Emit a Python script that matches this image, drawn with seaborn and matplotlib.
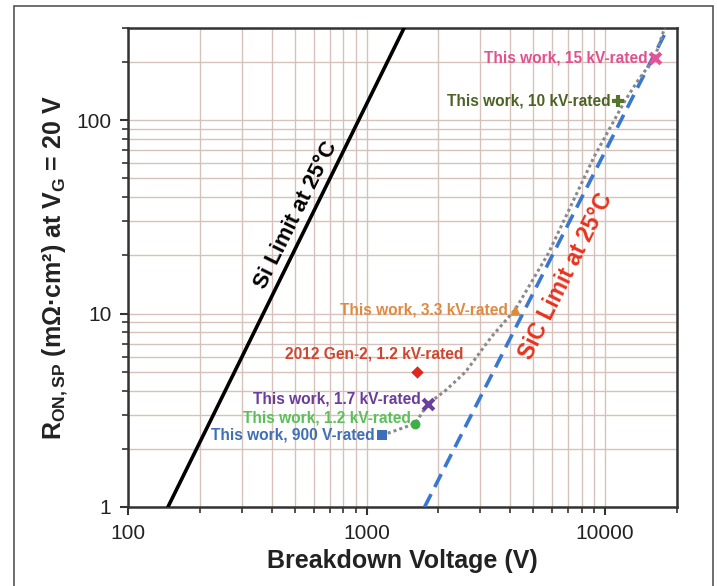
import numpy as np
import matplotlib
matplotlib.use('Agg')
import matplotlib.pyplot as plt
import seaborn as sns
from matplotlib.patches import Rectangle
from matplotlib.ticker import NullFormatter

sns.set_theme(style="white")
plt.rcParams['font.family'] = ['Liberation Sans', 'DejaVu Sans']
plt.rcParams['mathtext.default'] = 'regular'

# ── Data ─────────────────────────────────────────────────────
# unipolar limits (two end points each, log-log straight lines)
si_v = [147, 1436]
si_r = [1, 300]
sic_v = [1750, 18300]
sic_r = [1, 300]

# dotted trend through the "this work" devices
trend_v = [1160, 1600, 1800, 2140, 2600, 3340, 4200, 5780, 9000, 12100, 13740, 16100, 17750]
trend_r = [2.35, 2.7, 3.4, 4.0, 5.0, 7.6, 10.5, 20.5, 65, 126, 161, 210, 300]

device_labels = ['This work, 900 V-rated', 'This work, 1.2 kV-rated',
                 'This work, 1.7 kV-rated', '2012 Gen-2, 1.2 kV-rated',
                 'This work, 3.3 kV-rated', 'This work, 10 kV-rated',
                 'This work, 15 kV-rated']
device_v = [1160, 1600, 1810, 1630, 4200, 11300, 16100]
device_r = [2.35, 2.7, 3.4, 5.0, 10.4, 126, 210]

x_ticks = [100, 1000, 10000]
x_tick_labels = ['100', '1000', '10000']
y_ticks = [1, 10, 100]
y_tick_labels = ['1', '10', '100']

# styles per device (marker, marker colour, text colour, text offset in pt, ha)
marker_style = ['s', 'o', 'x', 'D', '^', '+', 'x']
marker_color = ['#3d6eb8', '#3cb044', '#6b3fa0', '#e0261e', '#e08a3a', '#55752b', '#e8509a']
text_color = ['#3f6fb5', '#5cbf5c', '#6a3c9c', '#cf452f', '#e08a40', '#4d6326', '#e2508f']
text_offset = [(-5, 0), (-3, 4), (-5, 4), (-31, 13), (-5, 0), (-5, 0), (-5, 0)]
text_ha = ['right', 'right', 'right', 'center', 'right', 'right', 'right']
marker_size = [45, 50, 60, 40, 60, 70, 60]

# ── Figure ───────────────────────────────────────────────────
fig = plt.figure(figsize=(7.17, 5.86), dpi=100)
ax = fig.add_axes([128/717, 1 - 507/586, (677 - 128)/717, (507 - 28)/586])

ax.set_xscale('log')
ax.set_yscale('log')
ax.set_xlim(100, 20000)
ax.set_ylim(1, 300)

ax.grid(True, which='both', color='#d6c2ba', lw=1.0)
ax.set_axisbelow(True)

sns.lineplot(x=si_v, y=si_r, ax=ax, color='black', lw=2.6, zorder=3)
sns.lineplot(x=sic_v, y=sic_r, ax=ax, color='#3a78d0', lw=2.6, zorder=3,
             dashes=False, linestyle=(0, (4, 2.2)))
sns.lineplot(x=trend_v, y=trend_r, ax=ax, color='#8a8a8a', lw=2.2, zorder=3,
             linestyle=(0, (1, 1)))

for i in range(len(device_v)):
    lw = 3 if marker_style[i] in ('x', '+') else 0
    ax.scatter(device_v[i], device_r[i], marker=marker_style[i], s=marker_size[i],
               color=marker_color[i], linewidths=lw, zorder=5)
    ax.annotate(device_labels[i], (device_v[i], device_r[i]),
                xytext=text_offset[i], textcoords='offset points',
                ha=text_ha[i], va='center', fontsize=11.2, fontweight='bold',
                color=text_color[i],
                family=['Liberation Sans Narrow', 'Liberation Sans', 'DejaVu Sans'])

ax.text(0.306, 0.61, 'Si Limit at 25°C', transform=ax.transAxes, rotation=63.5,
        rotation_mode='anchor', ha='center', va='center', fontsize=16,
        fontweight='bold', color='black')
ax.text(0.797, 0.482, 'SiC Limit at 25°C', transform=ax.transAxes, rotation=63.5,
        rotation_mode='anchor', ha='center', va='center', fontsize=16.5,
        fontweight='bold', color='#e8321e')

ax.set_xticks(x_ticks)
ax.set_xticklabels(x_tick_labels)
ax.set_yticks(y_ticks)
ax.set_yticklabels(y_tick_labels)
ax.xaxis.set_minor_formatter(NullFormatter())
ax.yaxis.set_minor_formatter(NullFormatter())
ax.tick_params(which='major', direction='out', length=6, width=1.5,
               color='#333333', labelsize=15, pad=6, labelcolor='#222222')
ax.tick_params(which='minor', direction='out', length=4, width=1.2, color='#333333')
ax.tick_params(bottom=True, left=True, which='both')

for sp in ax.spines.values():
    sp.set_color('#333333')
    sp.set_linewidth(1.8)

ax.set_xlabel('Breakdown Voltage (V)', fontsize=18, fontweight='bold', color='#222222')
ax.xaxis.set_label_coords(0.5, -0.088)
ax.set_ylabel('R$_{ON,SP}$ (mΩ·cm²) at V$_G$ = 20 V', fontsize=18,
              fontweight='bold', color='#222222')
ax.yaxis.set_label_coords(-0.105, 0.5)

# outer frame of the figure
fig.patches.append(Rectangle((14/717, -0.01), (713 - 14)/717, 1 - 6/586 + 0.01,
                             transform=fig.transFigure, fill=False,
                             edgecolor='#555555', lw=1.2))

fig.savefig('out.png', dpi=100)
